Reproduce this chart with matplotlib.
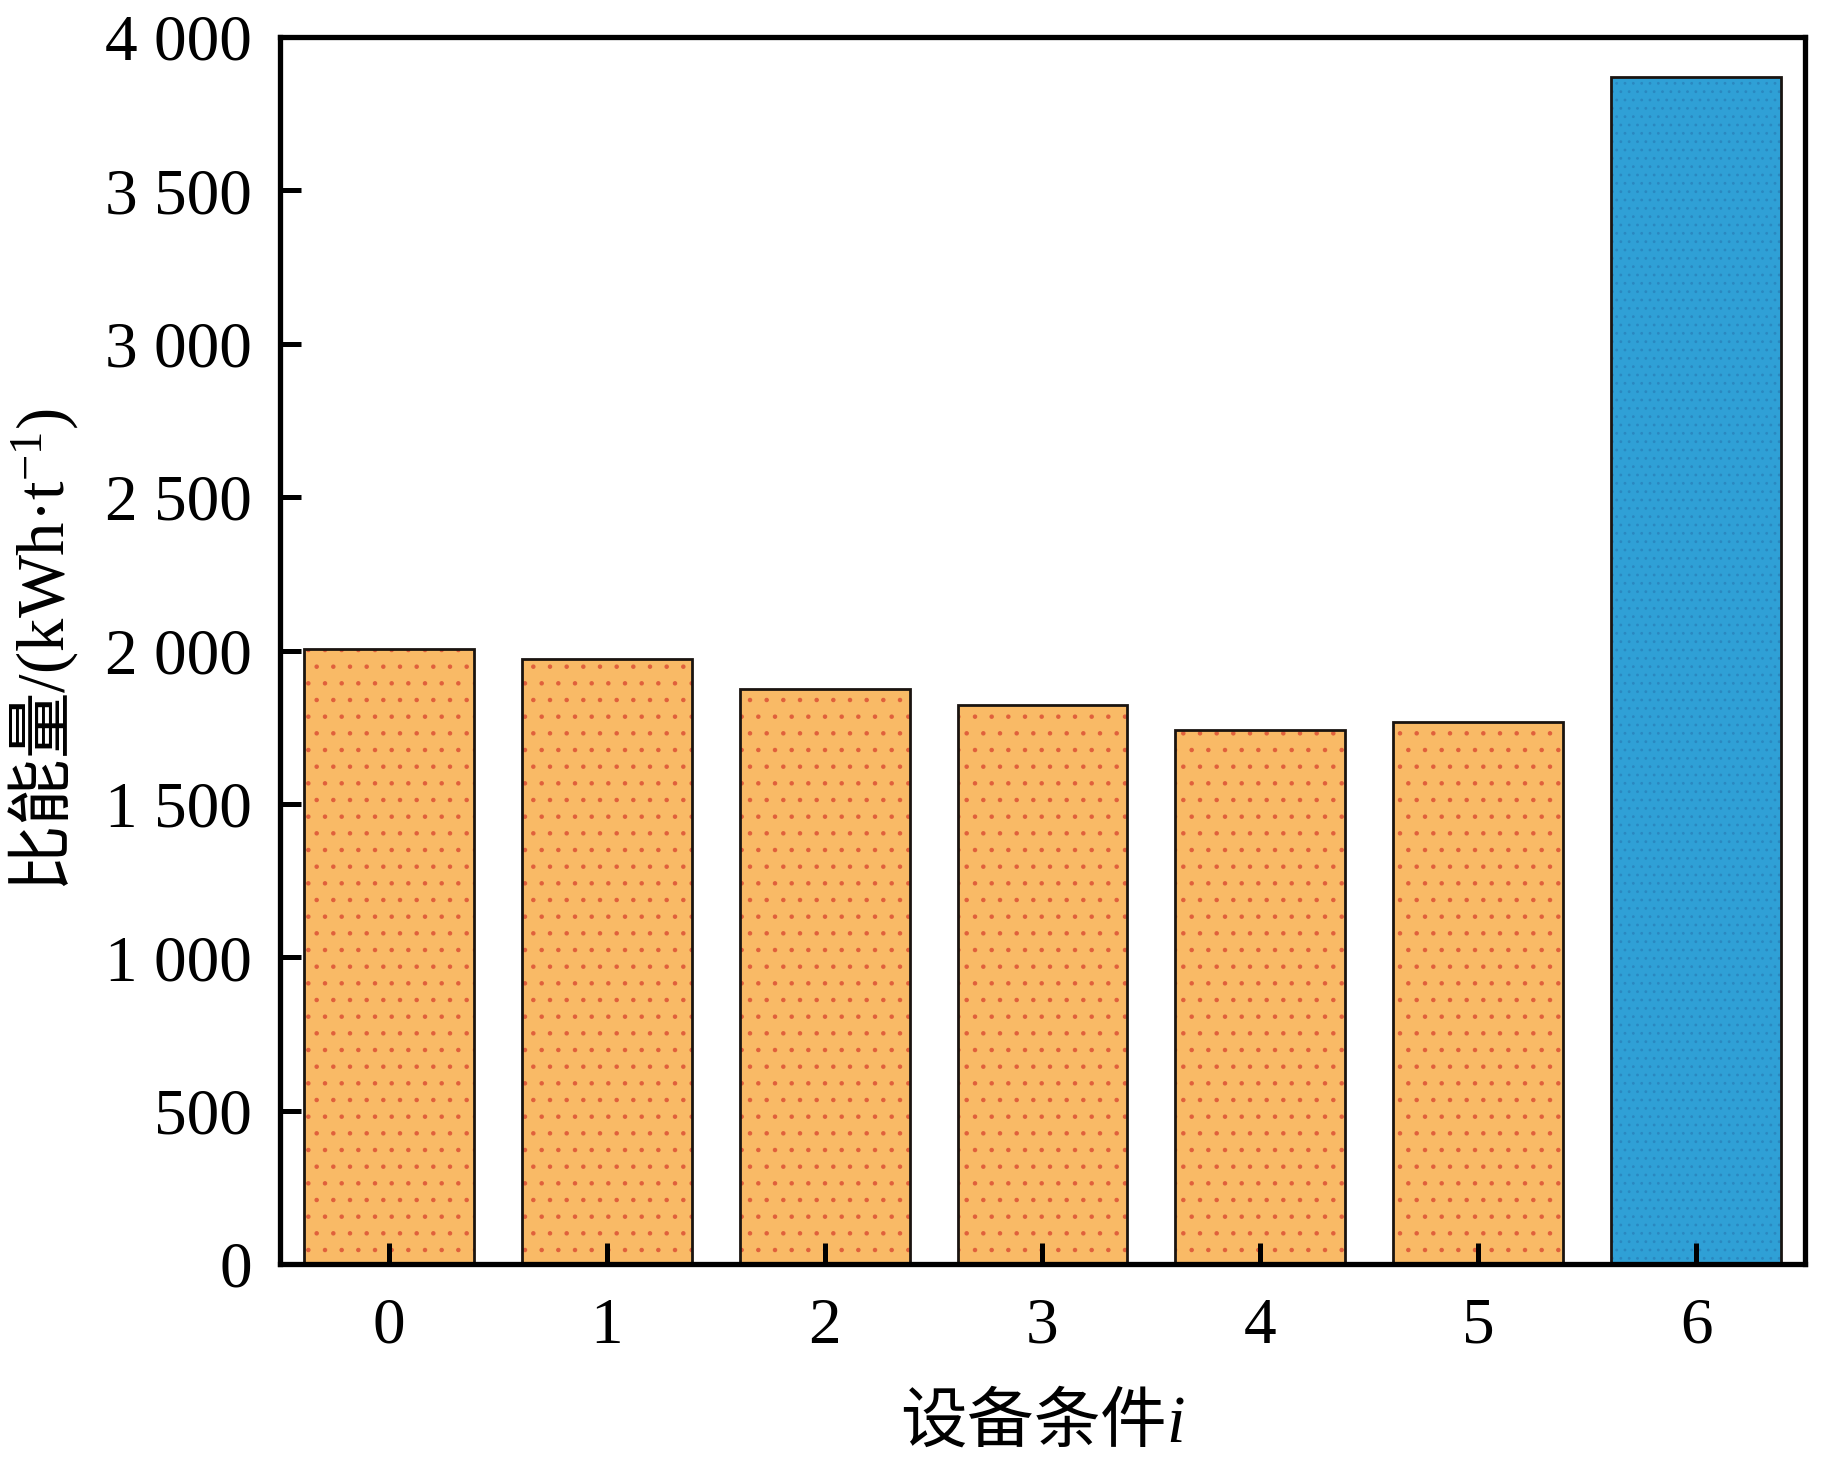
import matplotlib
matplotlib.use("Agg")
import matplotlib.pyplot as plt
import numpy as np

conditions = [0, 1, 2, 3, 4, 5, 6]
energy = [2005, 1972, 1875, 1822, 1741, 1767, 3870]
yticks = [0, 500, 1000, 1500, 2000, 2500, 3000, 3500, 4000]
ytick_labels = ["0", "500", "1 000", "1 500", "2 000", "2 500", "3 000", "3 500", "4 000"]

plt.rcParams['font.family'] = ['Liberation Serif', 'Noto Sans CJK SC']
plt.rcParams['mathtext.fontset'] = 'custom'
plt.rcParams['mathtext.rm'] = 'Liberation Serif'
plt.rcParams['mathtext.it'] = 'Liberation Serif:italic'
plt.rcParams['hatch.linewidth'] = 0.8

fig = plt.figure(figsize=(18.43, 14.60), dpi=100)
ax = fig.add_axes([0.1519, 0.1342, 0.9794 - 0.1519, 0.9747 - 0.1342])

face = ['#F9BA66'] * 6 + ['#2FA0D6']
dots = ['#E0603C'] * 6 + ['#2A88C0']
hatches = ['.'] * 6 + ['..']
width = 0.78

bars = ax.bar(conditions, energy, width=width, color=face, edgecolor=dots,
              linewidth=0, zorder=0.5)
for b, h in zip(bars, hatches):
    b.set_hatch(h)
ax.bar(conditions, energy, width=width, fill=False, edgecolor='#1a1410',
       linewidth=2.0, zorder=0.6)

ax.set_xlim(-0.5, 6.5)
ax.set_ylim(0, 4000)
ax.set_xticks(conditions)
ax.set_xticklabels([str(c) for c in conditions])
ax.set_yticks(yticks)
ax.set_yticklabels(ytick_labels)

for s in ax.spines.values():
    s.set_linewidth(3.8)
    s.set_zorder(5)
ax.tick_params(axis='both', direction='in', length=15, width=3.6,
               labelsize=47, top=False, right=False)
ax.tick_params(axis='x', pad=24)
ax.tick_params(axis='y', pad=20)

ax.set_ylabel(r'比能量$\mathrm{/(kWh·t^{-1})}$', fontsize=48,
              fontfamily='Noto Sans CJK SC', labelpad=18)
ax.set_xlabel(r'设备条件$i$', fontsize=48, fontfamily='Noto Sans CJK SC',
              labelpad=23)

fig.savefig('out.png', dpi=100)
